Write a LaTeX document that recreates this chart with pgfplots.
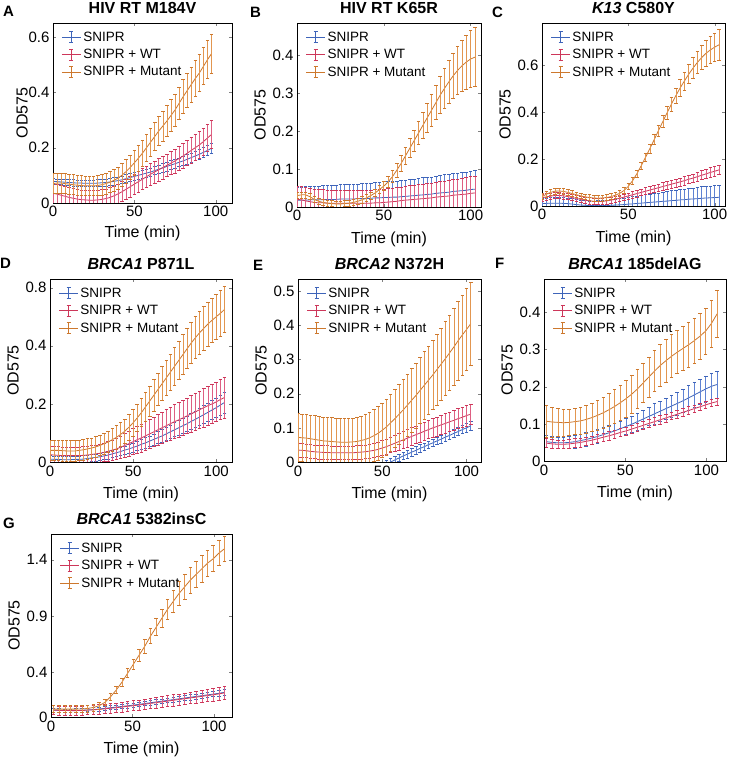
\documentclass[border=0pt]{standalone}
\usepackage{fontspec}
\setmainfont{Liberation Sans}
\usepackage{pgfplots}
\usepackage{pgfplotstable}
\pgfplotsset{compat=1.18}

\definecolor{cB}{RGB}{62,100,185}
\definecolor{cR}{RGB}{205,55,90}
\definecolor{cO}{RGB}{205,120,45}
\definecolor{cBl}{RGB}{95,130,210}
\definecolor{cRl}{RGB}{222,95,130}
\definecolor{cOl}{RGB}{226,150,80}

% columns: t, blue mean/err, red mean/err, orange mean/err
\pgfplotstableread{
t b be r re o oe
0    0.078 0.010 0.035 0.035 0.070 0.036
2.5  0.077 0.010 0.032 0.035 0.072 0.036
5    0.076 0.010 0.028 0.035 0.072 0.036
7.5  0.075 0.011 0.024 0.035 0.070 0.036
10   0.074 0.011 0.020 0.035 0.068 0.036
12.5 0.073 0.011 0.017 0.035 0.066 0.036
15   0.072 0.011 0.014 0.035 0.064 0.036
17.5 0.072 0.011 0.012 0.035 0.063 0.036
20   0.071 0.012 0.011 0.035 0.062 0.036
22.5 0.071 0.012 0.010 0.035 0.062 0.036
25   0.071 0.012 0.010 0.035 0.062 0.036
27.5 0.072 0.012 0.011 0.035 0.063 0.036
30   0.073 0.012 0.013 0.035 0.066 0.037
32.5 0.074 0.013 0.016 0.035 0.070 0.037
35   0.076 0.013 0.020 0.035 0.075 0.038
37.5 0.078 0.013 0.026 0.035 0.082 0.039
40   0.081 0.013 0.033 0.035 0.090 0.040
42.5 0.084 0.013 0.041 0.036 0.101 0.041
45   0.088 0.014 0.050 0.036 0.114 0.042
47.5 0.092 0.014 0.059 0.037 0.129 0.043
50   0.096 0.014 0.068 0.037 0.145 0.045
52.5 0.100 0.014 0.077 0.038 0.162 0.046
55   0.104 0.014 0.086 0.038 0.180 0.047
57.5 0.108 0.015 0.095 0.039 0.200 0.049
60   0.112 0.015 0.104 0.039 0.220 0.050
62.5 0.117 0.015 0.112 0.040 0.240 0.051
65   0.122 0.015 0.120 0.040 0.260 0.053
67.5 0.127 0.016 0.128 0.041 0.278 0.054
70   0.132 0.016 0.136 0.041 0.296 0.055
72.5 0.137 0.016 0.144 0.042 0.316 0.057
75   0.142 0.016 0.152 0.043 0.336 0.058
77.5 0.147 0.016 0.161 0.044 0.360 0.059
80   0.152 0.017 0.170 0.044 0.384 0.061
82.5 0.158 0.017 0.180 0.045 0.406 0.062
85   0.164 0.017 0.190 0.046 0.428 0.063
87.5 0.170 0.017 0.200 0.047 0.450 0.065
90   0.176 0.017 0.210 0.048 0.470 0.066
92.5 0.183 0.018 0.222 0.048 0.494 0.067
95   0.190 0.018 0.235 0.049 0.518 0.069
97.5 0.198 0.018 0.248 0.050 0.540 0.070
}\tabA

\pgfplotstableread{
t b be r re o oe
0     0.018 0.035 0.020 0.035 0.030 0.008
2.5   0.018 0.035 0.019 0.035 0.032 0.008
5     0.018 0.036 0.016 0.035 0.032 0.008
7.5   0.019 0.036 0.014 0.035 0.027 0.008
10    0.019 0.036 0.012 0.035 0.020 0.008
12.5  0.019 0.036 0.011 0.035 0.015 0.008
15    0.019 0.037 0.011 0.035 0.012 0.008
17.5  0.020 0.037 0.010 0.035 0.010 0.008
20    0.020 0.037 0.010 0.035 0.009 0.008
22.5  0.020 0.038 0.010 0.035 0.008 0.008
25    0.021 0.038 0.010 0.035 0.008 0.008
27.5  0.021 0.038 0.010 0.035 0.009 0.008
30    0.021 0.039 0.010 0.035 0.010 0.008
32.5  0.021 0.039 0.010 0.035 0.012 0.008
35    0.022 0.039 0.010 0.035 0.015 0.008
37.5  0.022 0.040 0.010 0.035 0.019 0.009
40    0.022 0.040 0.010 0.035 0.024 0.009
42.5  0.023 0.040 0.010 0.035 0.030 0.010
45    0.024 0.041 0.011 0.035 0.037 0.010
47.5  0.024 0.041 0.011 0.035 0.046 0.011
50    0.025 0.042 0.012 0.035 0.055 0.012
52.5  0.025 0.042 0.013 0.035 0.066 0.014
55    0.026 0.042 0.014 0.036 0.080 0.016
57.5  0.026 0.043 0.015 0.036 0.097 0.018
60    0.027 0.043 0.017 0.036 0.115 0.020
62.5  0.028 0.043 0.018 0.036 0.135 0.023
65    0.029 0.044 0.019 0.037 0.155 0.025
67.5  0.030 0.044 0.020 0.037 0.175 0.028
70    0.031 0.044 0.021 0.038 0.195 0.030
72.5  0.032 0.045 0.022 0.038 0.215 0.034
75    0.033 0.045 0.023 0.039 0.235 0.038
77.5  0.034 0.045 0.024 0.039 0.255 0.041
80    0.036 0.046 0.026 0.040 0.275 0.045
82.5  0.037 0.046 0.027 0.040 0.295 0.049
85    0.038 0.047 0.028 0.041 0.313 0.052
87.5  0.039 0.047 0.029 0.041 0.330 0.056
90    0.041 0.047 0.031 0.042 0.346 0.060
92.5  0.042 0.048 0.032 0.042 0.360 0.064
95    0.043 0.048 0.033 0.043 0.372 0.068
97.5  0.044 0.048 0.034 0.043 0.382 0.071
100   0.046 0.049 0.036 0.044 0.390 0.075
102.5 0.047 0.049 0.037 0.044 0.395 0.078
}\tabB

\pgfplotstableread{
t b be r re o oe
0     0.010 0.022 0.035 0.013 0.040 0.012
2.5   0.011 0.023 0.039 0.013 0.050 0.012
5     0.012 0.024 0.042 0.013 0.058 0.012
7.5   0.012 0.025 0.045 0.013 0.063 0.012
10    0.012 0.025 0.045 0.013 0.064 0.012
12.5  0.011 0.025 0.043 0.013 0.062 0.012
15    0.010 0.024 0.040 0.013 0.058 0.012
17.5  0.008 0.023 0.036 0.013 0.053 0.012
20    0.006 0.022 0.032 0.013 0.048 0.012
22.5  0.004 0.022 0.028 0.013 0.043 0.012
25    0.003 0.021 0.025 0.013 0.039 0.012
27.5  0.002 0.020 0.022 0.013 0.036 0.012
30    0.002 0.020 0.020 0.013 0.034 0.012
32.5  0.002 0.021 0.019 0.013 0.033 0.012
35    0.002 0.022 0.020 0.013 0.034 0.012
37.5  0.002 0.023 0.022 0.013 0.036 0.012
40    0.003 0.025 0.025 0.013 0.040 0.012
42.5  0.004 0.026 0.029 0.013 0.046 0.012
45    0.005 0.027 0.033 0.013 0.054 0.012
47.5  0.006 0.028 0.038 0.013 0.066 0.013
50    0.008 0.030 0.043 0.013 0.084 0.013
52.5  0.009 0.031 0.048 0.014 0.108 0.014
55    0.011 0.032 0.053 0.014 0.138 0.015
57.5  0.012 0.033 0.058 0.014 0.172 0.016
60    0.014 0.035 0.063 0.015 0.208 0.018
62.5  0.015 0.036 0.068 0.015 0.245 0.020
65    0.017 0.037 0.073 0.015 0.283 0.021
67.5  0.018 0.038 0.078 0.016 0.322 0.023
70    0.020 0.040 0.083 0.016 0.360 0.025
72.5  0.021 0.041 0.088 0.016 0.398 0.028
75    0.023 0.042 0.093 0.017 0.435 0.030
77.5  0.024 0.043 0.098 0.017 0.470 0.033
80    0.026 0.045 0.103 0.017 0.503 0.035
82.5  0.027 0.045 0.108 0.018 0.533 0.038
85    0.029 0.046 0.114 0.018 0.562 0.041
87.5  0.030 0.047 0.119 0.018 0.588 0.044
90    0.031 0.048 0.125 0.019 0.612 0.047
92.5  0.033 0.049 0.131 0.019 0.633 0.050
95    0.034 0.050 0.137 0.019 0.651 0.054
97.5  0.035 0.050 0.143 0.020 0.665 0.057
100   0.036 0.051 0.148 0.020 0.677 0.061
102.5 0.037 0.052 0.154 0.020 0.687 0.065
}\tabC

\pgfplotstableread{
t b be r re o oe
0     0.010 0.012 0.025 0.030 0.040 0.035
2.5   0.009 0.012 0.024 0.030 0.040 0.035
5     0.009 0.012 0.023 0.030 0.040 0.035
7.5   0.008 0.012 0.022 0.030 0.039 0.035
10    0.008 0.012 0.022 0.030 0.038 0.035
12.5  0.008 0.012 0.022 0.030 0.038 0.035
15    0.009 0.012 0.022 0.030 0.038 0.035
17.5  0.009 0.012 0.022 0.030 0.040 0.035
20    0.010 0.012 0.023 0.030 0.042 0.035
22.5  0.012 0.012 0.024 0.030 0.045 0.035
25    0.014 0.012 0.026 0.030 0.048 0.035
27.5  0.016 0.012 0.028 0.030 0.052 0.035
30    0.018 0.012 0.030 0.030 0.057 0.035
32.5  0.021 0.013 0.033 0.032 0.063 0.036
35    0.024 0.013 0.037 0.034 0.069 0.037
37.5  0.028 0.013 0.041 0.035 0.077 0.039
40    0.032 0.013 0.045 0.037 0.085 0.040
42.5  0.036 0.014 0.051 0.039 0.095 0.041
45    0.041 0.014 0.057 0.041 0.106 0.042
47.5  0.045 0.015 0.063 0.043 0.120 0.044
50    0.050 0.015 0.070 0.045 0.135 0.045
52.5  0.055 0.016 0.077 0.046 0.152 0.047
55    0.061 0.017 0.083 0.048 0.170 0.048
57.5  0.066 0.018 0.090 0.049 0.190 0.050
60    0.072 0.018 0.097 0.050 0.210 0.052
62.5  0.078 0.019 0.104 0.051 0.230 0.054
65    0.084 0.020 0.111 0.053 0.250 0.056
67.5  0.090 0.021 0.118 0.054 0.270 0.058
70    0.097 0.022 0.125 0.055 0.290 0.060
72.5  0.104 0.023 0.132 0.056 0.310 0.062
75    0.111 0.024 0.139 0.058 0.330 0.065
77.5  0.118 0.025 0.145 0.059 0.350 0.066
80    0.125 0.026 0.152 0.060 0.370 0.068
82.5  0.132 0.027 0.159 0.061 0.390 0.069
85    0.140 0.028 0.166 0.063 0.410 0.070
87.5  0.147 0.029 0.173 0.064 0.428 0.072
90    0.155 0.030 0.180 0.065 0.445 0.073
92.5  0.163 0.031 0.187 0.066 0.460 0.075
95    0.171 0.032 0.194 0.067 0.475 0.076
97.5  0.179 0.033 0.200 0.068 0.488 0.077
100   0.187 0.034 0.207 0.068 0.500 0.078
102.5 0.196 0.035 0.215 0.069 0.512 0.079
105   0.205 0.036 0.222 0.070 0.525 0.080
}\tabD

\pgfplotstableread{
t b be r re o oe
0     -0.050 0.009 0.035 0.020 0.072 0.070
2.5   -0.050 0.009 0.034 0.020 0.071 0.070
5     -0.050 0.009 0.033 0.020 0.070 0.070
7.5   -0.050 0.009 0.031 0.020 0.068 0.070
10    -0.050 0.009 0.030 0.020 0.066 0.070
12.5  -0.050 0.009 0.029 0.020 0.064 0.070
15    -0.050 0.009 0.028 0.020 0.062 0.070
17.5  -0.050 0.009 0.028 0.020 0.061 0.070
20    -0.050 0.009 0.027 0.020 0.060 0.070
22.5  -0.050 0.009 0.027 0.020 0.059 0.070
25    -0.050 0.009 0.027 0.020 0.058 0.070
27.5  -0.050 0.009 0.027 0.020 0.058 0.070
30    -0.049 0.009 0.027 0.020 0.058 0.070
32.5  -0.047 0.009 0.027 0.020 0.059 0.070
35    -0.044 0.009 0.028 0.020 0.060 0.070
37.5  -0.040 0.010 0.029 0.020 0.063 0.071
40    -0.035 0.010 0.030 0.020 0.066 0.073
42.5  -0.030 0.010 0.032 0.020 0.071 0.074
45    -0.025 0.010 0.034 0.020 0.077 0.076
47.5  -0.018 0.010 0.037 0.021 0.084 0.078
50    -0.012 0.010 0.041 0.022 0.093 0.080
52.5  -0.006 0.010 0.045 0.022 0.103 0.082
55    0.000 0.010 0.050 0.023 0.115 0.084
57.5  0.006 0.010 0.055 0.024 0.127 0.085
60    0.012 0.010 0.060 0.025 0.140 0.087
62.5  0.018 0.011 0.065 0.025 0.153 0.089
65    0.023 0.011 0.070 0.026 0.167 0.091
67.5  0.029 0.011 0.075 0.026 0.181 0.093
70    0.034 0.011 0.080 0.026 0.195 0.095
72.5  0.040 0.011 0.085 0.027 0.210 0.097
75    0.045 0.011 0.090 0.027 0.225 0.099
77.5  0.051 0.011 0.095 0.027 0.240 0.100
80    0.056 0.011 0.100 0.028 0.255 0.102
82.5  0.062 0.011 0.104 0.028 0.271 0.104
85    0.067 0.012 0.109 0.028 0.287 0.106
87.5  0.073 0.012 0.113 0.029 0.303 0.108
90    0.078 0.012 0.118 0.029 0.320 0.110
92.5  0.084 0.012 0.122 0.029 0.337 0.112
95    0.089 0.012 0.127 0.029 0.355 0.115
97.5  0.095 0.012 0.131 0.030 0.372 0.117
100   0.100 0.012 0.136 0.030 0.388 0.120
102.5 0.106 0.012 0.140 0.030 0.405 0.122
}\tabE

\pgfplotstableread{
t b be r re o oe
1.5  0.052 0.016 0.048 0.012 0.107 0.042
5    0.050 0.016 0.046 0.012 0.105 0.040
8.5  0.049 0.016 0.045 0.012 0.104 0.038
12   0.049 0.016 0.045 0.012 0.103 0.036
15.5 0.050 0.017 0.046 0.012 0.104 0.035
19   0.052 0.017 0.048 0.012 0.106 0.035
22.5 0.055 0.017 0.050 0.012 0.108 0.036
26   0.058 0.018 0.053 0.012 0.112 0.037
29.5 0.062 0.018 0.056 0.011 0.117 0.038
33   0.066 0.018 0.060 0.011 0.123 0.040
36.5 0.071 0.019 0.064 0.011 0.130 0.042
40   0.076 0.019 0.068 0.011 0.138 0.044
43.5 0.081 0.020 0.072 0.011 0.147 0.046
47   0.087 0.020 0.077 0.011 0.157 0.048
50.5 0.093 0.021 0.081 0.011 0.168 0.050
54   0.099 0.022 0.086 0.011 0.180 0.051
57.5 0.106 0.023 0.091 0.011 0.194 0.052
61   0.113 0.024 0.096 0.011 0.210 0.053
64.5 0.120 0.025 0.101 0.011 0.226 0.054
68   0.127 0.027 0.106 0.011 0.242 0.055
71.5 0.134 0.028 0.111 0.011 0.257 0.056
75   0.141 0.029 0.116 0.011 0.270 0.057
78.5 0.148 0.030 0.121 0.010 0.282 0.058
82   0.155 0.031 0.126 0.010 0.293 0.058
85.5 0.162 0.032 0.131 0.010 0.303 0.059
89   0.170 0.033 0.136 0.010 0.313 0.060
92.5 0.178 0.034 0.141 0.010 0.324 0.061
96   0.186 0.034 0.146 0.010 0.336 0.061
99.5 0.194 0.035 0.151 0.010 0.350 0.062
103  0.201 0.036 0.156 0.010 0.370 0.063
106.5 0.206 0.036 0.160 0.010 0.396 0.063
}\tabF

\pgfplotstableread{
t b be r re o oe
1.5  0.060 0.015 0.060 0.040 0.070 0.030
5    0.059 0.015 0.059 0.040 0.070 0.030
8.5  0.058 0.015 0.058 0.040 0.070 0.030
12   0.058 0.015 0.057 0.040 0.070 0.030
15.5 0.058 0.016 0.057 0.040 0.070 0.030
19   0.060 0.016 0.058 0.041 0.072 0.030
22.5 0.063 0.016 0.061 0.041 0.076 0.030
26   0.066 0.017 0.064 0.041 0.085 0.030
29.5 0.071 0.017 0.068 0.042 0.100 0.030
33   0.077 0.017 0.073 0.042 0.130 0.030
36.5 0.083 0.018 0.078 0.043 0.180 0.030
40   0.088 0.018 0.083 0.043 0.240 0.032
43.5 0.094 0.018 0.089 0.044 0.310 0.036
47   0.100 0.019 0.095 0.044 0.390 0.040
50.5 0.106 0.019 0.101 0.045 0.470 0.045
54   0.113 0.019 0.107 0.045 0.550 0.052
57.5 0.120 0.020 0.114 0.046 0.630 0.060
61   0.127 0.020 0.121 0.047 0.720 0.068
64.5 0.134 0.021 0.128 0.047 0.800 0.075
68   0.141 0.021 0.135 0.048 0.880 0.083
71.5 0.148 0.021 0.142 0.049 0.960 0.090
75   0.155 0.022 0.149 0.050 1.030 0.098
78.5 0.162 0.022 0.156 0.050 1.100 0.105
82   0.169 0.023 0.163 0.051 1.160 0.110
85.5 0.176 0.023 0.170 0.052 1.220 0.115
89   0.183 0.023 0.177 0.052 1.270 0.118
92.5 0.190 0.024 0.184 0.053 1.320 0.120
96   0.197 0.024 0.191 0.054 1.370 0.118
99.5 0.204 0.024 0.198 0.054 1.410 0.115
103  0.211 0.025 0.206 0.055 1.460 0.112
106.5 0.220 0.025 0.215 0.055 1.500 0.110
}\tabG

\pgfplotsset{
  panel/.style={
    anchor=south west, scale only axis,
    axis line style={line width=0.5pt},
    tick align=inside, major tick length=3pt,
    xmin=0, ymin=0,
    xtick={0,50,100}, xticklabels={0,50,100},
    tick label style={font=\fontsize{15}{15}\selectfont},
    label style={font=\fontsize{16}{16}\selectfont},
    xlabel shift=4pt,
    title style={font=\bfseries\fontsize{16}{18}\selectfont},
    xlabel={Time (min)}, ylabel={OD575},
    legend style={at={(0.03,0.975)}, anchor=north west, draw=none, fill=none,
      font=\fontsize{13.5}{13.5}\selectfont, cells={anchor=west}, row sep=2.5pt},
  },
  % one style per series; the legend sample is a line with an error bar
  series/.style n args={2}{color=#1, line width=0.8pt, mark=none,
    error bars/y dir=both, error bars/y explicit,
    error bars/error bar style={line width=0.6pt, color=#2},
    error bars/error mark options={rotate=90, color=#1, line width=0.6pt, mark size=1.8pt},
    legend image code/.code={
      \draw[#1, line width=0.8pt] (0pt,0pt) -- (19pt,0pt);
      \draw[#1, line width=0.7pt] (9.5pt,-5.5pt) -- (9.5pt,5.5pt) (7.5pt,-5.5pt) -- (11.5pt,-5.5pt) (7.5pt,5.5pt) -- (11.5pt,5.5pt);
    }},
  sB/.style={series={cB}{cBl}},
  sR/.style={series={cR}{cRl}},
  sO/.style={series={cO}{cOl}},
}

\newcommand{\threeplots}[1]{%
  \addplot[sB] table[x=t, y=b, y error=be] {#1};
  \addlegendentry{SNIPR}
  \addplot[sR] table[x=t, y=r, y error=re] {#1};
  \addlegendentry{SNIPR + WT}
  \addplot[sO] table[x=t, y=o, y error=oe] {#1};
  \addlegendentry{SNIPR + Mutant}
}

\begin{document}
\begin{tikzpicture}
\useasboundingbox (0,0) rectangle (729pt,759pt);

\begin{axis}[panel, at={(53pt,556pt)}, width=179pt, height=180pt,
  xmax=110, ymax=0.65, ytick={0,0.2,0.4,0.6}, yticklabels={0,0.2,0.4,0.6},
  ylabel shift=-6pt, xlabel shift=2pt,
  title={HIV RT M184V}]
\threeplots{\tabA}
\end{axis}

\begin{axis}[panel, at={(297pt,552pt)}, width=184pt, height=184pt,
  xmax=106, ymax=0.485, ytick={0,0.1,0.2,0.3,0.4}, yticklabels={0,0.1,0.2,0.3,0.4},
  title={HIV RT K65R}]
\threeplots{\tabB}
\end{axis}

\begin{axis}[panel, at={(542pt,553pt)}, width=183pt, height=183pt,
  xmax=106, ymax=0.78, ytick={0,0.2,0.4,0.6}, yticklabels={0,0.2,0.4,0.6},
  title={\textit{K13} C580Y}]
\threeplots{\tabC}
\end{axis}

\begin{axis}[panel, at={(50pt,297pt)}, width=182pt, height=183pt,
  xmax=109.5, ymax=0.63, ytick={0,0.2,0.4,0.6}, yticklabels={0,0.2,0.4,0.8},
  title={\textit{BRCA1} P871L}]
\threeplots{\tabD}
\end{axis}

\begin{axis}[panel, at={(298pt,297pt)}, width=183pt, height=183pt,
  xmax=108.6, ymax=0.536, ytick={0,0.1,0.2,0.3,0.4,0.5}, yticklabels={0,0.1,0.2,0.3,0.4,0.5},
  title={\textit{BRCA2} N372H}]
\threeplots{\tabE}
\end{axis}

\begin{axis}[panel, at={(544pt,298pt)}, width=182pt, height=182pt,
  xmax=112, ymax=0.49, ytick={0,0.1,0.2,0.3,0.4}, yticklabels={0,0.1,0.2,0.3,0.4},
  title={\textit{BRCA1} 185delAG}]
\threeplots{\tabF}
\end{axis}

\begin{axis}[panel, at={(51pt,42pt)}, width=181pt, height=183pt,
  xmax=111, ymax=1.63, ytick={0,0.4,0.9,1.4}, yticklabels={0,0.4,0.9,1.4},
  title={\textit{BRCA1} 5382insC}]
\threeplots{\tabG}
\end{axis}

\begin{scope}[every node/.style={anchor=north west, inner sep=0pt, font=\bfseries\fontsize{15}{15}\selectfont}]
\node at (3pt,753pt) {A};
\node at (250pt,752pt) {B};
\node at (492pt,752pt) {C};
\node at (0pt,501pt) {D};
\node at (253pt,499pt) {E};
\node at (495pt,501pt) {F};
\node at (3pt,241pt) {G};
\end{scope}
\end{tikzpicture}
\end{document}
